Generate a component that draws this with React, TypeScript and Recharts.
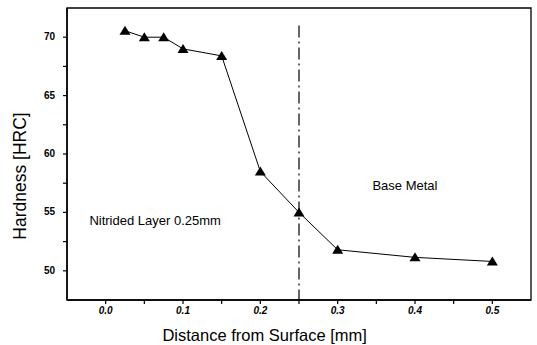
import {
  ComposedChart,
  Line,
  XAxis,
  YAxis,
  ReferenceLine,
  ReferenceArea,
  ReferenceDot,
} from "recharts";

// Distance from surface [mm] and hardness [HRC]
const distance = [0.025, 0.05, 0.075, 0.1, 0.15, 0.2, 0.25, 0.3, 0.4, 0.5];
const hardness = [70.55, 70.0, 70.0, 69.0, 68.4, 58.5, 55.0, 51.8, 51.15, 50.8];

const xTicks = [0, 0.05, 0.1, 0.15, 0.2, 0.25, 0.3, 0.35, 0.4, 0.45, 0.5];
const xMajor = ["0.0", "0.1", "0.2", "0.3", "0.4", "0.5"];
const yTicks = [50, 52.5, 55, 57.5, 60, 62.5, 65, 67.5, 70];

const data = distance.map((d, i) => ({ d, h: hardness[i] }));

const FONT = '"Liberation Sans", Arial, sans-serif';

const Triangle = (props: any) => {
  const { cx, cy } = props;
  if (cx == null || cy == null) return null;
  return (
    <path
      d={`M${cx},${cy - 5} L${cx + 5.5},${cy + 4} L${cx - 5.5},${cy + 4} Z`}
      fill="#000"
    />
  );
};

const XTick = (props: any) => {
  const { x, y, payload } = props;
  const v = payload.value;
  const label = xMajor.find((s) => Math.abs(parseFloat(s) - v) < 1e-6);
  if (!label) return null;
  return (
    <text
      x={x}
      y={y + 9}
      textAnchor="middle"
      fontSize={10}
      fontStyle="italic"
      fontWeight="bold"
      fontFamily={FONT}
      fill="#000"
    >
      {label}
    </text>
  );
};

const YTick = (props: any) => {
  const { x, y, payload } = props;
  const v = payload.value;
  if (v % 5 !== 0) return null;
  return (
    <text
      x={x}
      y={y + 3}
      textAnchor="end"
      fontSize={10}
      fontWeight="bold"
      fontFamily={FONT}
      fill="#000"
    >
      {v}
    </text>
  );
};

const XTitle = (props: any) => {
  const vb = props.viewBox || {};
  return (
    <text
      x={vb.x + vb.width * 0.426}
      y={vb.y + 41}
      textAnchor="middle"
      fontSize={16.5}
      fontFamily={FONT}
      fill="#000"
    >
      Distance from Surface [mm]
    </text>
  );
};

const YTitle = (props: any) => {
  const vb = props.viewBox || {};
  const cx = 20;
  const cy = vb.y + vb.height / 2 + 22;
  return (
    <text
      x={cx}
      y={cy}
      transform={`rotate(-90, ${cx}, ${cy})`}
      textAnchor="middle"
      dominantBaseline="central"
      fontSize={17.5}
      fontFamily={FONT}
      fill="#000"
    >
      Hardness [HRC]
    </text>
  );
};

const annotation = (text: string) => (p: any) => (
  <text
    x={p.cx}
    y={p.cy}
    textAnchor="middle"
    dominantBaseline="central"
    fontSize={13}
    fontFamily={FONT}
    fill="#000"
  >
    {text}
  </text>
);

export default function App() {
  return (
    <div style={{ position: "absolute", left: 0, top: 0, background: "#fff" }}>
      <ComposedChart
        width={537}
        height={345}
        data={data}
        margin={{ top: 8, right: 6, left: 27, bottom: 25 }}
      >
        <XAxis
          dataKey="d"
          type="number"
          domain={[-0.05, 0.55]}
          ticks={xTicks}
          tick={<XTick />}
          tickLine={{ stroke: "#000", strokeWidth: 1.2 }}
          tickSize={4}
          tickMargin={1}
          axisLine={{ stroke: "#000", strokeWidth: 1.5 }}
          height={20}
          interval={0}
          allowDataOverflow
          label={<XTitle />}
        />
        <YAxis
          dataKey="h"
          type="number"
          domain={[47.5, 72.5]}
          ticks={yTicks}
          tick={<YTick />}
          tickLine={{ stroke: "#000", strokeWidth: 1.2 }}
          tickSize={4}
          tickMargin={8}
          axisLine={{ stroke: "#000", strokeWidth: 1.5 }}
          width={40}
          interval={0}
          allowDataOverflow
          label={<YTitle />}
        />
        <ReferenceArea
          x1={-0.05}
          x2={0.55}
          y1={47.5}
          y2={72.5}
          fill="none"
          stroke="#000"
          strokeWidth={1.3}
          ifOverflow="visible"
        />
        <ReferenceLine
          segment={[
            { x: 0.25, y: 71 },
            { x: 0.25, y: 47.5 },
          ]}
          stroke="#000"
          strokeWidth={1.2}
          strokeDasharray="12 4 2 4"
        />
        <Line
          dataKey="h"
          stroke="#000"
          strokeWidth={1}
          dot={<Triangle />}
          activeDot={false}
          isAnimationActive={false}
        />
        <ReferenceDot
          x={0.387}
          y={57.3}
          r={0}
          ifOverflow="visible"
          shape={annotation("Base Metal")}
        />
        <ReferenceDot
          x={0.064}
          y={54.3}
          r={0}
          ifOverflow="visible"
          shape={annotation("Nitrided Layer  0.25mm")}
        />
      </ComposedChart>
    </div>
  );
}
